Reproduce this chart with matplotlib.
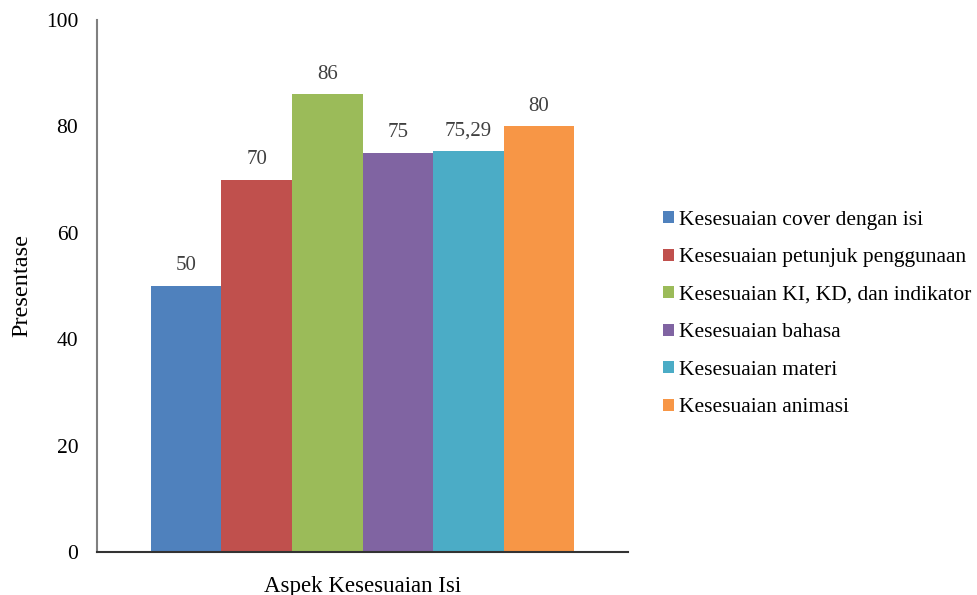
import matplotlib
matplotlib.use("Agg")
import matplotlib.pyplot as plt
import numpy as np

plt.rcParams["font.family"] = ["Liberation Serif", "DejaVu Serif"]

# kategori penilaian dan nilai persentase
aspects = [
    "Kesesuaian cover dengan isi",
    "Kesesuaian petunjuk penggunaan",
    "Kesesuaian KI, KD, dan indikator",
    "Kesesuaian bahasa",
    "Kesesuaian materi",
    "Kesesuaian animasi",
]
percentages = [50, 70, 86, 75, 75.29, 80]
value_labels = ["50", "70", "86", "75", "75,29", "80"]
bar_colors = ["#4F81BD", "#C0504D", "#9BBB59", "#8064A2", "#4BACC6", "#F79646"]
yticks = [0, 20, 40, 60, 80, 100]

fig = plt.figure(figsize=(9.77, 5.95), dpi=100)
ax = fig.add_axes([0.0993, 0.0723, 0.5435, 0.8941])

pos = np.arange(len(aspects))
bars = ax.bar(pos, percentages, width=1.0, color=bar_colors, label=aspects, zorder=2)

for rect, txt in zip(bars, value_labels):
    ax.annotate(
        txt,
        (rect.get_x() + rect.get_width() / 2, rect.get_height()),
        xytext=(0, 14.5),
        textcoords="offset points",
        ha="center",
        va="center",
        fontsize=15,
        color="#404040",
    )

gap = 0.765
ax.set_xlim(-0.5 - gap, len(aspects) - 0.5 + gap)
ax.set_ylim(0, 100)
ax.set_yticks(yticks)
ax.set_yticklabels([str(t) for t in yticks], fontsize=15.5, color="black")
ax.set_xticks([])
ax.tick_params(axis="y", length=0, pad=13.5)

ax.spines["top"].set_visible(False)
ax.spines["right"].set_visible(False)
ax.spines["left"].set_color("#808080")
ax.spines["left"].set_linewidth(1.5)
ax.spines["bottom"].set_color("#333333")
ax.spines["bottom"].set_linewidth(1.5)

ax.set_ylabel("Presentase", fontsize=17.5, labelpad=10)
ax.set_xlabel("Aspek Kesesuaian Isi", fontsize=16.5, labelpad=17)

ax.legend(
    loc="center left",
    bbox_to_anchor=(1.05, 0.447),
    frameon=False,
    fontsize=15.5,
    handlelength=0.5,
    handleheight=0.5,
    handletextpad=0.25,
    labelspacing=0.86,
    borderaxespad=0,
)

fig.savefig("out.png", dpi=100)
